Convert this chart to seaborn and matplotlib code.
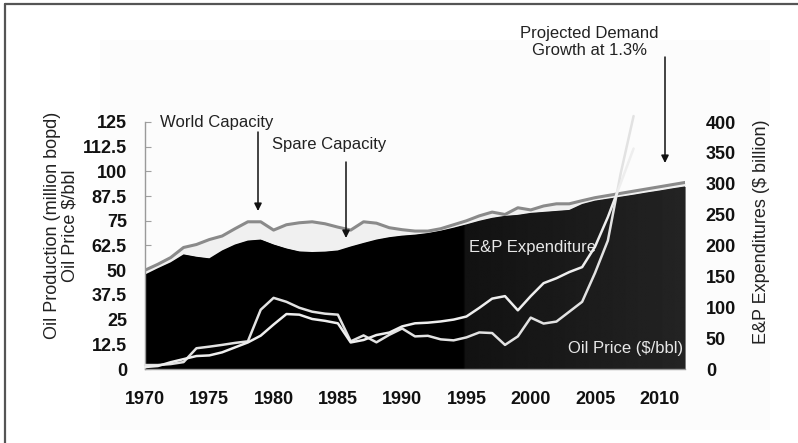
import numpy as np
import pandas as pd
import matplotlib
matplotlib.use("Agg")
import matplotlib.pyplot as plt
import seaborn as sns
from matplotlib import font_manager
from matplotlib.lines import Line2D
from matplotlib.patches import Rectangle

# --- data ---
years = list(range(1970, 2013))
capacity = [50, 53, 56.4, 61.5, 63, 65.5, 67.3, 71, 74.5, 74.5,
            70.3, 73, 74, 74.5, 73.5, 71.8, 70.3, 74.5, 73.8, 71.5,
            70.5, 69.8, 69.8, 71, 73, 75, 77.5, 79.4, 78.2, 81.6,
            80.5, 82.5, 83.6, 83.6, 85.2, 86.7, 87.8, 88.9, 90, 91.1,
            92.2, 93.3, 94.4]
production = [47.8, 51, 54, 58, 56.8, 56, 60, 63, 65, 65.5,
              63, 61, 59.5, 59.2, 59.4, 60, 62, 63.8, 65.5, 66.7,
              67.5, 68, 68.8, 70, 71.5, 73.2, 75, 76.5, 77.5, 78,
              79, 79.5, 80, 80.5, 83.5, 85.2, 86.2, 87.2, 88.2, 89.3,
              90.3, 91.4, 92.4]

price_years = list(range(1970, 2009))
oil_price = [2, 2, 2.5, 3.5, 10.5, 11.3, 12.2, 13.2, 14, 30,
             36, 34, 31, 29, 28, 27.5, 14, 17, 13.5, 17.3,
             20.5, 16.5, 16.8, 15, 14.5, 16, 18.5, 18.2, 12.2, 16.5,
             26, 23, 24, 29, 34, 48.6, 65, 99, 128]
ep_spend = [3.2, 4.8, 11, 16, 21, 22, 27, 35, 43, 54,
            72, 89, 88, 81, 78, 74, 43, 47, 55, 59,
            69, 74, 75, 77, 80, 85, 99, 114, 118, 95,
            118, 139, 147, 157, 165, 198, 246, 301, 357]

x_ticks = [1970, 1975, 1980, 1985, 1990, 1995, 2000, 2005, 2010]
y_ticks = [0, 12.5, 25, 37.5, 50, 62.5, 75, 87.5, 100, 112.5, 125]
y_ticklabels = ["0", "12.5", "25", "37.5", "50", "62.5", "75", "87.5", "100", "112.5", "125"]
y2_ticks = [0, 50, 100, 150, 200, 250, 300, 350, 400]

supply = pd.DataFrame({"year": years, "capacity": capacity, "production": production})
prices = pd.DataFrame({"year": price_years, "oil": oil_price, "ep": ep_spend})

sns.set_theme(style="white")
names = {f.name for f in font_manager.fontManager.ttflist}
tick_font = "Liberation Sans Narrow" if "Liberation Sans Narrow" in names else "Liberation Sans"
plt.rcParams["font.family"] = ["Liberation Sans", "DejaVu Sans"]

W, H = 798, 443
fig = plt.figure(figsize=(W / 100, H / 100), dpi=100)
fig.patch.set_facecolor("white")

# faint scanned-page background and frame lines
fig.patches.append(Rectangle((100 / W, 13 / H), 670 / W, 390 / H, transform=fig.transFigure,
                             facecolor="#fcfcfc", edgecolor="none", zorder=-5))
fig.add_artist(Line2D([5 / W, 1], [1 - 4 / H, 1 - 4 / H], transform=fig.transFigure, color="#555555", lw=1.6))
fig.add_artist(Line2D([5 / W, 5 / W], [0, 1 - 4 / H], transform=fig.transFigure, color="#555555", lw=1.6))

ax = fig.add_axes([145 / W, 74 / H, 540 / W, 247 / H])
ax.set_facecolor("none")

# spare capacity band and production area
ax.fill_between(supply["year"], supply["production"], supply["capacity"], color="#f0f0f0", lw=0, zorder=1)
prod = ax.fill_between(supply["year"], 0, supply["production"], color="black", lw=0, zorder=1.2)
gx = np.linspace(1970, 2012, 500)
shade = np.interp(gx, [1970, 1994.8, 1994.9, 2012], [0.0, 0.0, 0.07, 0.14])
im = ax.imshow(shade[None, :], cmap="gray", vmin=0, vmax=1, extent=[1970, 2012, 0, 100],
               aspect="auto", zorder=1.4, interpolation="bilinear")
im.set_clip_path(prod.get_paths()[0], ax.transData)

sns.lineplot(data=supply, x="year", y="capacity", ax=ax, color="#8a8a8a", lw=2.2, zorder=2)
sns.lineplot(data=prices, x="year", y="oil", ax=ax, color="#e2e2e2", lw=1.8, zorder=3, clip_on=False)

ax.set_xlim(1970, 2012)
ax.set_ylim(0, 125)
ax.set_xticks(x_ticks)
ax.set_yticks(y_ticks)
ax.set_yticklabels(y_ticklabels)
for s in ["top", "right"]:
    ax.spines[s].set_visible(False)
for s in ["left", "bottom"]:
    ax.spines[s].set_color("#9a9a9a")
    ax.spines[s].set_linewidth(1)
ax.tick_params(axis="both", direction="in", length=4, color="#a0a0a0", width=0.8)
ax.tick_params(axis="y", pad=13)
ax.tick_params(axis="x", pad=16)
for lab in ax.get_xticklabels() + ax.get_yticklabels():
    lab.set_fontfamily([tick_font, "DejaVu Sans"])
    lab.set_fontweight("bold")
    lab.set_fontsize(13)
    lab.set_color("#111111")

ax.set_xlabel("")
ax.set_ylabel("Oil Production (million bopd)\nOil Price $/bbl", fontsize=13, color="#222222",
              linespacing=1.05)
ax.yaxis.label.set_va("center")
ax.yaxis.set_label_coords(-0.155, 0.58)

ax2 = ax.twinx()
ax2.set_position(ax.get_position())
sns.lineplot(data=prices, x="year", y="ep", ax=ax2, color="#eeeeee", lw=1.8, zorder=3, clip_on=False)
ax2.set_ylim(0, 400)
ax2.set_yticks(y2_ticks)
for s in ["top", "right", "left", "bottom"]:
    ax2.spines[s].set_visible(False)
ax2.tick_params(axis="y", direction="in", length=0, pad=15)
for lab in ax2.get_yticklabels():
    lab.set_fontfamily([tick_font, "DejaVu Sans"])
    lab.set_fontweight("bold")
    lab.set_fontsize(13)
    lab.set_color("#111111")
ax2.set_ylabel("E&P Expenditures ($ billion)", fontsize=13, color="#222222")
ax2.yaxis.label.set_va("center")
ax2.yaxis.set_label_coords(1.142, 0.555)

# annotations
def px_to_data(px, py):
    return 1970 + (px - 145) / 540 * 42, (369 - py) / 247 * 125

arrow = dict(arrowstyle="-|>", color="#111111", lw=1.1, mutation_scale=11, shrinkA=0, shrinkB=0)
ax.annotate("", xy=px_to_data(258, 211), xytext=px_to_data(258, 132), arrowprops=arrow, annotation_clip=False)
ax.annotate("", xy=px_to_data(346, 238), xytext=px_to_data(346, 162), arrowprops=arrow, annotation_clip=False)
ax.annotate("", xy=px_to_data(665, 163), xytext=px_to_data(665, 57), arrowprops=arrow, annotation_clip=False)

ax.text(*px_to_data(160, 123), "World Capacity", fontsize=12, ha="left", va="center", color="#222222")
ax.text(*px_to_data(272, 145), "Spare Capacity", fontsize=12, ha="left", va="center", color="#222222")
ax.text(*px_to_data(589, 42), "Projected Demand\nGrowth at 1.3%", fontsize=12, ha="center", va="center",
        color="#222222", linespacing=1.15, clip_on=False)
ax.text(*px_to_data(533, 248), "E&P Expenditure", fontsize=12, ha="center", va="center", color="#e8e8e8", zorder=4)
ax.text(*px_to_data(683, 348), "Oil Price ($/bbl)", fontsize=12, ha="right", va="center", color="#e8e8e8", zorder=4)

fig.savefig("out.png", dpi=100)
